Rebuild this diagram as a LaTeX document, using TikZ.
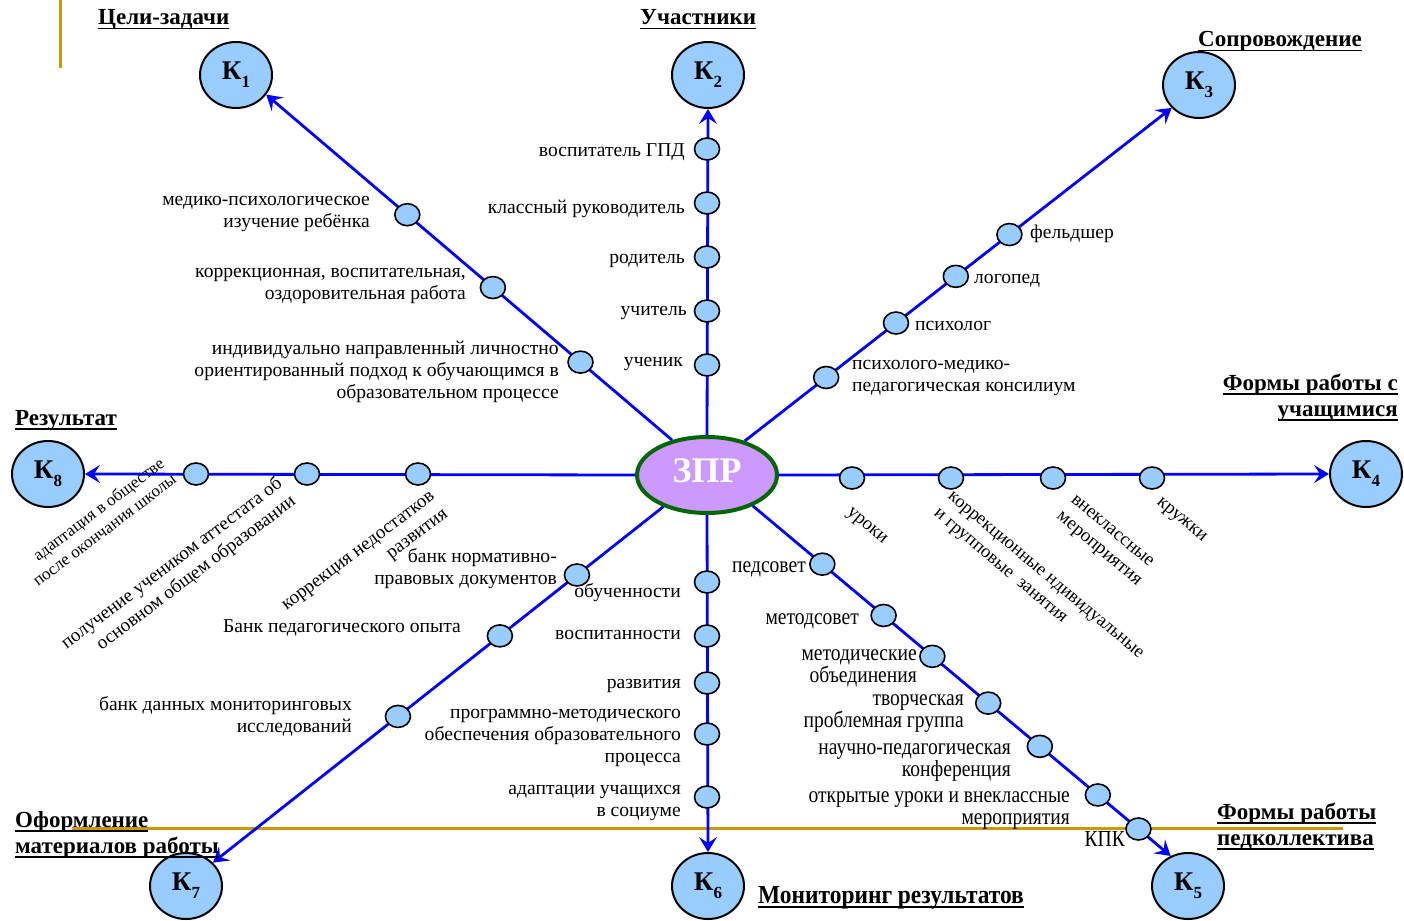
\documentclass[tikz,border=0pt]{standalone}
\usepackage{fontspec}
\setmainfont{Liberation Serif}
\newfontfamily\narrowfont[FakeStretch=0.85]{Liberation Serif}
\newfontfamily\hnarrowfont[FakeStretch=0.9]{Liberation Serif}
\usetikzlibrary{shapes.geometric,arrows.meta,calc}
\definecolor{kblue}{RGB}{153,204,255}
\definecolor{zviolet}{RGB}{204,153,255}
\definecolor{zgreen}{RGB}{0,102,0}
\definecolor{goldline}{RGB}{204,153,0}
\definecolor{lblue}{RGB}{0,0,255}
\newsavebox\hulbox
\newcommand{\hul}[1]{\leavevmode\sbox\hulbox{#1}\rlap{\rule[-4.5pt]{\wd\hulbox}{1.8pt}}\usebox\hulbox}
\newcommand{\Kl}[1]{К\raisebox{-0.3em}{\fontsize{17}{17}\selectfont #1}}
\begin{document}
\begin{tikzpicture}[x=1pt,y=-1pt,
  kn/.style={ellipse,draw=black,line width=2pt,fill=kblue,minimum width=72pt,minimum height=66pt,inner sep=0pt,font=\fontsize{27}{27}\selectfont\bfseries},
  dot/.style={ellipse,draw=black,line width=1.6pt,fill=kblue,minimum width=25pt,minimum height=22pt,inner sep=0pt},
  br/.style={draw=lblue,line width=2.8pt},
  arr/.style={br,-{Stealth[length=15pt,width=18pt,inset=6pt]}},
  lbl/.style={inner sep=0pt,yshift=-3pt,font=\fontsize{19.6}{22}\selectfont},
  rlbl/.style={inner sep=0pt,font=\fontsize{19}{22}\selectfont},
  nlbl/.style={inner sep=0pt,yshift=-4pt,font=\narrowfont\fontsize{23}{22}\selectfont},
  hd/.style={inner sep=0pt,font=\fontsize{23}{26}\selectfont\bfseries},
  gl/.style={draw=goldline,line width=3pt},
]
\useasboundingbox (0,0) rectangle (1404,920);
% gold lines
\coordinate (g1) at (60,0); \coordinate (g2) at (60,68);
\draw[gl] (g1) -- (g2);
\coordinate (g3) at (72,828); \coordinate (g4) at (1343,828);
\draw[gl] (g3) -- (g4);
% central node
\node[ellipse,draw=zgreen,line width=4pt,fill=zviolet,minimum width=140pt,minimum height=76pt,inner sep=0pt,text=white,font=\fontsize{36}{36}\selectfont\bfseries] (zpr) at (707,475) {\raisebox{8pt}{ЗПР}};
% K nodes
\node[kn] (k1) at (236,75) {\Kl{1}};
\node[kn] (k2) at (708,75) {\Kl{2}};
\node[kn] (k3) at (1199,85) {\Kl{3}};
\node[kn] (k4) at (1366,474) {\Kl{4}};
\node[kn] (k5) at (1188,886) {\Kl{5}};
\node[kn] (k6) at (708,886) {\Kl{6}};
\node[kn] (k7) at (186,886) {\Kl{7}};
\node[kn] (k8) at (48,474) {\Kl{8}};
% connectors
\draw[arr] (zpr.135) -- (k1.-33);
\draw[arr] (zpr.north) -- (k2.south);
\draw[arr] (zpr.42) -- (k3.220);
\draw[arr] (zpr.east) -- (k4.west);
\draw[arr] (zpr.-34) -- (k5.120);
\draw[arr] (zpr.south) -- (k6.north);
\draw[arr] (zpr.216) -- (k7.41);
\draw[arr] (zpr.west) -- (k8.east);
% dots branch 1
\node[dot] (d11) at ($(zpr.135)!(407,215)!(k1.-33)$) {};
\node[dot] (d12) at ($(zpr.135)!(495,285)!(k1.-33)$) {};
\node[dot] (d13) at ($(zpr.135)!(584,358)!(k1.-33)$) {};
% branch 2
\node[dot] (d21) at (707,149) {};
\node[dot] (d22) at (707,203) {};
\node[dot] (d23) at (707,257) {};
\node[dot] (d24) at (707,311) {};
\node[dot] (d25) at (707,365) {};
% branch 3
\node[dot] (d31) at ($(zpr.42)!(825,376)!(k3.220)$) {};
\node[dot] (d32) at ($(zpr.42)!(896,323)!(k3.220)$) {};
\node[dot] (d33) at ($(zpr.42)!(954,274)!(k3.220)$) {};
\node[dot] (d34) at ($(zpr.42)!(1009,234)!(k3.220)$) {};
% branch 4
\node[dot] (d41) at (852,478) {};
\node[dot] (d42) at (951,478) {};
\node[dot] (d43) at (1053,478) {};
\node[dot] (d44) at (1152,478) {};
% branch 5
\node[dot] (d51) at ($(zpr.-34)!(825,561)!(k5.120)$) {};
\node[dot] (d52) at ($(zpr.-34)!(884,615)!(k5.120)$) {};
\node[dot] (d53) at ($(zpr.-34)!(931,658)!(k5.120)$) {};
\node[dot] (d54) at ($(zpr.-34)!(990,701)!(k5.120)$) {};
\node[dot] (d55) at ($(zpr.-34)!(1041,745)!(k5.120)$) {};
\node[dot] (d56) at ($(zpr.-34)!(1097,796)!(k5.120)$) {};
\node[dot] (d57) at ($(zpr.-34)!(1141,826)!(k5.120)$) {};
% branch 6
\node[dot] (d61) at (707,582) {};
\node[dot] (d62) at (707,636) {};
\node[dot] (d63) at (707,683) {};
\node[dot] (d64) at (707,734) {};
\node[dot] (d65) at (707,797) {};
% branch 7
\node[dot] (d71) at ($(zpr.216)!(573,570)!(k7.41)$) {};
\node[dot] (d72) at ($(zpr.216)!(496,631)!(k7.41)$) {};
\node[dot] (d73) at ($(zpr.216)!(396,714)!(k7.41)$) {};
% branch 8
\node[dot] (d81) at (196,474) {};
\node[dot] (d82) at (307,474) {};
\node[dot] (d83) at (418,474) {};
% labels branch 1
\node[lbl,anchor=east,align=right] (t11) at (370,211) {медико-психологическое\\изучение ребёнка};
\node[lbl,anchor=east,align=right] (t12) at (466,283) {коррекционная, воспитательная,\\оздоровительная работа};
\node[lbl,anchor=east,align=right] (t13) at (559,369) {индивидуально направленный личностно\\ориентированный подход к обучающимся в\\образовательном процессе};
% branch 2
\node[lbl,anchor=east] (t21) at (685,149) {воспитатель ГПД};
\node[lbl,anchor=east] (t22) at (685,206) {классный руководитель};
\node[lbl,anchor=east] (t23) at (685,258) {родитель};
\node[lbl,anchor=east] (t24) at (687,310) {учитель};
\node[lbl,anchor=east] (t25) at (683,361) {ученик};
% branch 3
\node[lbl,anchor=west] (t31) at (1030,231) {фельдшер};
\node[lbl,anchor=west] (t32) at (974,278) {логопед};
\node[lbl,anchor=west] (t33) at (915,323) {психолог};
\node[lbl,anchor=west,align=left] (t34) at (852,375) {психолого-медико-\\педагогическая консилиум};
% branch 4 (rotated)
\node[rlbl,rotate=-40,anchor=north west,align=left] (t41) at (852,506) {уроки};
\node[rlbl,rotate=-40,anchor=north west,align=left,font=\fontsize{18.5}{22}\selectfont] (t42) at (953,491) {коррекционные ндивидуальные\\и групповые~~занятия};
\node[rlbl,rotate=-40,anchor=north west,align=left] (t43) at (1076,494) {внеклассные\\мероприятия};
\node[rlbl,rotate=-40,anchor=north west,align=left] (t44) at (1162,496) {кружки};
% branch 5
\node[nlbl,anchor=east] (t51) at (806,565) {педсовет};
\node[nlbl,anchor=east] (t52) at (859,617) {методсовет};
\node[nlbl,anchor=east,align=right] (t53) at (917,664) {методические\\объединения};
\node[nlbl,anchor=east,align=right] (t54) at (964,710) {творческая\\проблемная группа};
\node[nlbl,anchor=east,align=right] (t55) at (1011,759) {научно-педагогическая\\конференция};
\node[nlbl,anchor=east,align=right] (t56) at (1070,807) {открытые уроки и внеклассные\\мероприятия};
\node[nlbl,anchor=east] (t57) at (1125,835) {КПК};
% branch 6
\node[lbl,anchor=east] (t61) at (681,590) {обученности};
\node[lbl,anchor=east] (t62) at (681,632) {воспитанности};
\node[lbl,anchor=east] (t63) at (681,683) {развития};
\node[lbl,anchor=east,align=right] (t64) at (681,735) {программно-методического\\обеспечения образовательного\\процесса};
\node[lbl,anchor=east,align=right] (t65) at (681,800) {адаптации учащихся\\в социуме};
% branch 7
\node[lbl,anchor=east,align=right] (t71) at (557,566) {банк нормативно-\\правовых документов};
\node[lbl,anchor=east] (t72) at (461,625) {Банк педагогического опыта};
\node[lbl,anchor=east,align=right] (t73) at (352,713) {банк данных мониторинговых\\исследований};
% branch 8 (rotated)
\node[rlbl,rotate=37,anchor=north east,align=right,font=\fontsize{17}{20}\selectfont] (t81) at (158,456) {адаптация в обществе\\после окончания школы};
\node[rlbl,rotate=37,anchor=north east,align=right] (t82) at (275,475) {получение учеником аттестата об\\основном общем образовании};
\node[rlbl,rotate=37,anchor=north east,align=right] (t83) at (430,491) {коррекция недостатков\\развития};
% headings
\node[hd,anchor=base west] (h1) at (98,25) {\hul{Цели-задачи}};
\node[hd,anchor=base west] (h2) at (640,25) {\hul{Участники}};
\node[hd,anchor=base west] (h3) at (1198,47) {\hul{Сопровождение}};
\node[hd,anchor=north east,align=right] (h4) at (1398,374) {\hul{Формы работы с}\\\hul{учащимися}};
\node[hd,anchor=base west] (h8) at (15,425) {\hul{Результат}};
\node[hd,anchor=north west,align=left] (h7) at (15,811) {\hul{Оформление}\\\hul{материалов работы}};
\node[hd,anchor=north west,align=left] (h5) at (1217,803) {\hul{Формы работы}\\\hul{педколлектива}};
\node[inner sep=0pt,font=\hnarrowfont\fontsize{26}{26}\selectfont\bfseries,anchor=base west] (h6) at (758,903) {\hul{Мониторинг результатов}};
\end{tikzpicture}
\end{document}
